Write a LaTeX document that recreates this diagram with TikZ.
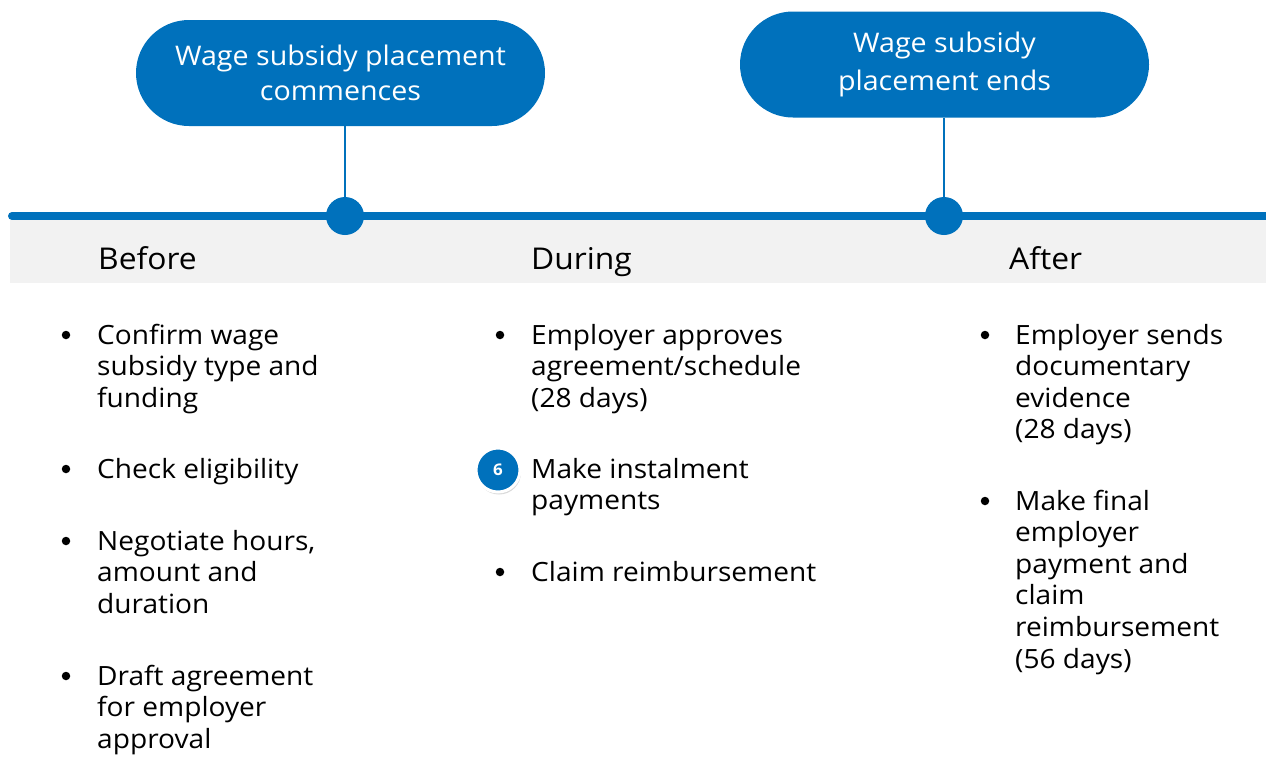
\documentclass[tikz,border=0pt]{standalone}
\usepackage{fontspec}
\setmainfont[FakeStretch=1.06]{Open Sans}
\usetikzlibrary{shadows}
\definecolor{tblue}{HTML}{0071BC}
\definecolor{band}{HTML}{F2F2F2}
\tikzset{
  pill/.style={draw=none, fill=tblue, rounded corners=53pt, minimum width=409pt, minimum height=106pt, text=white, align=center, font=\fontsize{27}{35}\selectfont, inner sep=0pt},
  dot/.style={circle, fill=tblue, minimum size=38pt, inner sep=0pt},
  stem/.style={draw=tblue, line width=2pt},
  heading/.style={anchor=base west, inner sep=0pt, font=\fontsize{30}{36}\selectfont},
  item/.style={anchor=base west, inner sep=0pt, align=left, font=\fontsize{26.5}{31.6}\selectfont},
  bul/.style={circle, fill=black, minimum size=8.5pt, inner sep=0pt},
  badge/.style={circle, fill=tblue, draw=white, line width=3pt, minimum size=44pt, inner sep=0pt, text=white, font=\bfseries\fontsize{16}{16}\selectfont, drop shadow={shadow xshift=1pt, shadow yshift=-2.5pt, opacity=0.3}}
}
\begin{document}
\begin{tikzpicture}[x=1pt,y=-1pt]
\useasboundingbox (0,0) rectangle (1266,756);
% band
\fill[band] (10,220) rectangle (1266,283);
% timeline
\coordinate (tl) at (12,216);
\coordinate (tr) at (1266,216);
\draw[tblue, line width=8pt, line cap=round] (tl) -- (tr);
% pills
\node[pill] (p1) at (340.5,73) {Wage subsidy placement\\commences};
\node[pill, font=\fontsize{27}{38}\selectfont] (p2) at (944.5,64.5) {Wage subsidy\\placement ends};
\node[dot] (d1) at (345,216) {};
\node[dot] (d2) at (944,216) {};
\draw[stem] (p1.south -| d1) -- (d1.north);
\draw[stem] (p2.south -| d2) -- (d2.north);
% headings
\node[heading] (h1) at (98,269) {Before};
\node[heading] (h2) at (531,269) {During};
\node[heading] (h3) at (1009,269) {After};
% Before items (anchor = baseline of last line)
\node[bul] (b1) at (66,335) {};
\node[item] (t1) at (97,407.2) {Confirm wage\\subsidy type and\\funding};
\node[bul] (b2) at (66,469) {};
\node[item] (t2) at (97,478) {Check eligibility};
\node[bul] (b3) at (66,541) {};
\node[item] (t3) at (97,613.2) {Negotiate hours,\\amount and\\duration};
\node[bul] (b4) at (66,676) {};
\node[item] (t4) at (97,748.2) {Draft agreement\\for employer\\approval};
% During items
\node[bul] (c1) at (500,335) {};
\node[item] (u1) at (531,407.2) {Employer approves\\agreement/schedule\\(28 days)};
\node[badge] (c2) at (498,470) {6};
\node[item] (u2) at (531,509.6) {Make instalment\\payments};
\node[bul] (c3) at (500,572) {};
\node[item] (u3) at (531,581) {Claim reimbursement};
% After items
\node[bul] (a1) at (985,335) {};
\node[item] (v1) at (1015,438.8) {Employer sends\\documentary\\evidence\\(28 days)};
\node[bul] (a2) at (985,501) {};
\node[item] (v2) at (1015,668) {Make final\\employer\\payment and\\claim\\reimbursement\\(56 days)};
\end{tikzpicture}
\end{document}
